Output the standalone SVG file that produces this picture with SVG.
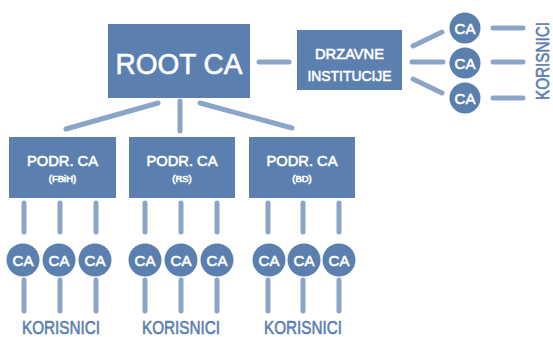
<svg xmlns="http://www.w3.org/2000/svg" width="553" height="337" viewBox="0 0 553 337">
<style>
.box{fill:#5b7fae}
.ca{fill:#5b7fae}
.ln{stroke:#8ba5c8;stroke-width:5;stroke-linecap:round;fill:none}
.t{font-family:"Liberation Sans",Arial,sans-serif;fill:#ffffff;text-anchor:middle;stroke:#ffffff;stroke-width:0.6}
.k{font-family:"Liberation Sans",Arial,sans-serif;fill:#5b80b0;text-anchor:middle;font-size:18px;stroke:#5b80b0;stroke-width:0.6}
</style>
<rect width="553" height="337" fill="#ffffff"/>
<g id="connectors">
<line class="ln" x1="259" y1="62" x2="289" y2="62"/>
<line class="ln" x1="158" y1="103" x2="66" y2="129"/>
<line class="ln" x1="180" y1="101" x2="180" y2="131"/>
<line class="ln" x1="200" y1="103" x2="292" y2="128"/>
<line class="ln" x1="413" y1="46" x2="442" y2="32"/>
<line class="ln" x1="412" y1="62" x2="443" y2="62"/>
<line class="ln" x1="413" y1="79" x2="442" y2="93"/>
<line class="ln" x1="493" y1="28" x2="523" y2="28"/>
<line class="ln" x1="493" y1="62" x2="523" y2="62"/>
<line class="ln" x1="493" y1="98" x2="523" y2="98"/>
<g id="g1-lines">
<line class="ln" x1="24" y1="203" x2="24" y2="232"/><line class="ln" x1="60" y1="203" x2="60" y2="232"/><line class="ln" x1="96" y1="203" x2="96" y2="232"/>
<line class="ln" x1="24" y1="280" x2="24" y2="311"/><line class="ln" x1="60" y1="280" x2="60" y2="311"/><line class="ln" x1="96" y1="280" x2="96" y2="311"/>
</g>
<g id="g2-lines">
<line class="ln" x1="145" y1="203" x2="145" y2="232"/><line class="ln" x1="181" y1="203" x2="181" y2="232"/><line class="ln" x1="217" y1="203" x2="217" y2="232"/>
<line class="ln" x1="145" y1="280" x2="145" y2="311"/><line class="ln" x1="181" y1="280" x2="181" y2="311"/><line class="ln" x1="217" y1="280" x2="217" y2="311"/>
</g>
<g id="g3-lines">
<line class="ln" x1="268" y1="203" x2="268" y2="232"/><line class="ln" x1="303" y1="203" x2="303" y2="232"/><line class="ln" x1="339" y1="203" x2="339" y2="232"/>
<line class="ln" x1="268" y1="280" x2="268" y2="311"/><line class="ln" x1="303" y1="280" x2="303" y2="311"/><line class="ln" x1="339" y1="280" x2="339" y2="311"/>
</g>
</g>
<g id="root">
<rect class="box" x="108" y="24" width="142" height="74"/>
<text class="t" x="179" y="74" font-size="29" textLength="127" lengthAdjust="spacingAndGlyphs">ROOT CA</text>
</g>
<g id="drzavne">
<rect class="box" x="297" y="30" width="105" height="60"/>
<text class="t" x="349.5" y="59" font-size="15.5" textLength="69" lengthAdjust="spacingAndGlyphs">DRZAVNE</text>
<text class="t" x="349.5" y="81" font-size="15.5" textLength="84" lengthAdjust="spacingAndGlyphs">INSTITUCIJE</text>
</g>
<g id="drz-ca">
<circle class="ca" cx="465" cy="28" r="15.5"/><text class="t" x="465" y="33.5" font-size="15">CA</text>
<circle class="ca" cx="465" cy="63" r="15.5"/><text class="t" x="465" y="68.5" font-size="15">CA</text>
<circle class="ca" cx="465" cy="98" r="15.5"/><text class="t" x="465" y="103.5" font-size="15">CA</text>
</g>
<g id="drz-korisnici">
<text class="k" transform="translate(549 61) rotate(-90)" textLength="78" lengthAdjust="spacingAndGlyphs">KORISNICI</text>
</g>
<g id="podr-fbih">
<rect class="box" x="9" y="137" width="107" height="61"/>
<text class="t" x="62.5" y="166" font-size="15" textLength="71" lengthAdjust="spacingAndGlyphs">PODR. CA</text>
<text class="t" x="62.5" y="182" font-size="9.5" stroke-width="0.3">(FBiH)</text>
</g>
<g id="podr-rs">
<rect class="box" x="129" y="137" width="106" height="61"/>
<text class="t" x="182" y="166" font-size="15" textLength="71" lengthAdjust="spacingAndGlyphs">PODR. CA</text>
<text class="t" x="182" y="182" font-size="9.5" stroke-width="0.3">(RS)</text>
</g>
<g id="podr-bd">
<rect class="box" x="249" y="137" width="106" height="61"/>
<text class="t" x="302" y="166" font-size="15" textLength="71" lengthAdjust="spacingAndGlyphs">PODR. CA</text>
<text class="t" x="302" y="182" font-size="9.5" stroke-width="0.3">(BD)</text>
</g>
<g id="g1-ca">
<circle class="ca" cx="23" cy="260" r="16.5"/><text class="t" x="23" y="265.5" font-size="15">CA</text>
<circle class="ca" cx="59" cy="260" r="16.5"/><text class="t" x="59" y="265.5" font-size="15">CA</text>
<circle class="ca" cx="95" cy="260" r="16.5"/><text class="t" x="95" y="265.5" font-size="15">CA</text>
</g>
<g id="g2-ca">
<circle class="ca" cx="145" cy="260" r="16.5"/><text class="t" x="145" y="265.5" font-size="15">CA</text>
<circle class="ca" cx="181" cy="260" r="16.5"/><text class="t" x="181" y="265.5" font-size="15">CA</text>
<circle class="ca" cx="217" cy="260" r="16.5"/><text class="t" x="217" y="265.5" font-size="15">CA</text>
</g>
<g id="g3-ca">
<circle class="ca" cx="269" cy="260" r="16.5"/><text class="t" x="269" y="265.5" font-size="15">CA</text>
<circle class="ca" cx="304" cy="260" r="16.5"/><text class="t" x="304" y="265.5" font-size="15">CA</text>
<circle class="ca" cx="339" cy="260" r="16.5"/><text class="t" x="339" y="265.5" font-size="15">CA</text>
</g>
<g id="korisnici">
<text class="k" x="61" y="334" textLength="78" lengthAdjust="spacingAndGlyphs">KORISNICI</text>
<text class="k" x="181" y="334" textLength="78" lengthAdjust="spacingAndGlyphs">KORISNICI</text>
<text class="k" x="303" y="334" textLength="78" lengthAdjust="spacingAndGlyphs">KORISNICI</text>
</g>
</svg>
